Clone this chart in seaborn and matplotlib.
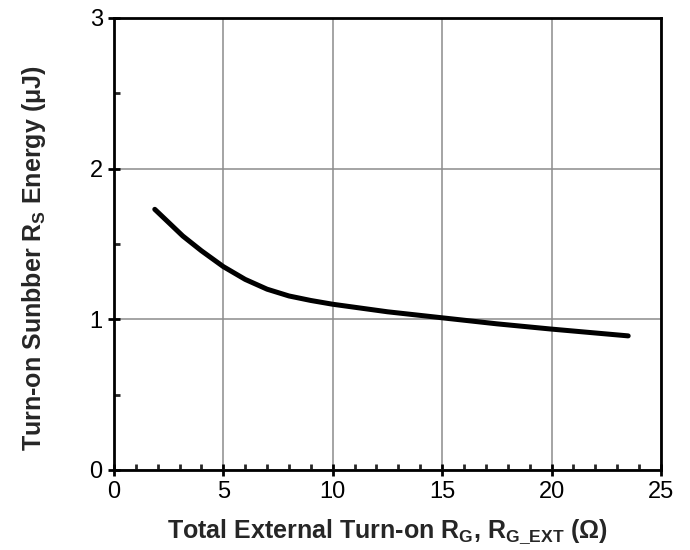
# Turn-on snubber energy vs external gate resistance
# ==============================================================================

import numpy as np
import pandas as pd
import matplotlib
matplotlib.use("Agg")
import matplotlib.pyplot as plt
import matplotlib.ticker as ticker
import seaborn as sns

# Data
# ==============================================================================
rg_ext = [1.87, 2.5, 3.15, 4.0, 5.0, 6.0, 7.0, 8.0, 9.0, 10.0, 12.5, 15.0, 17.5, 20.0, 23.5]
energy = [1.73, 1.643, 1.553, 1.455, 1.35, 1.265, 1.20, 1.155, 1.125, 1.10, 1.05, 1.01, 0.97, 0.935, 0.89]

x_ticks = [0, 5, 10, 15, 20, 25]
y_ticks = [0, 1, 2, 3]

df = pd.DataFrame({"rg": rg_ext, "e": energy})

sns.set_style("white")
plt.rcParams["font.family"] = ["Liberation Sans", "DejaVu Sans"]
plt.rcParams["mathtext.fontset"] = "custom"
plt.rcParams["mathtext.rm"] = "Liberation Sans"
plt.rcParams["mathtext.bf"] = "Liberation Sans:bold"

fig = plt.figure(figsize=(6.9, 5.5), dpi=100)
ax = fig.add_axes([0.165, 0.1455, 0.793, 0.8218])

sns.lineplot(data=df, x="rg", y="e", color="black", linewidth=3.6,
             solid_capstyle="round", solid_joinstyle="round", ax=ax)

ax.set_xlim(0, 25)
ax.set_ylim(0, 3)
ax.set_xticks(x_ticks)
ax.set_yticks(y_ticks)
ax.xaxis.set_minor_locator(ticker.MultipleLocator(1))
ax.yaxis.set_minor_locator(ticker.MultipleLocator(0.5))

ax.grid(True, which="major", color="#8c8c8c", linewidth=1.1)
ax.set_axisbelow(True)

for s in ax.spines.values():
    s.set_color("black")
    s.set_linewidth(2.0)
    s.set_visible(True)

ax.tick_params(which="major", direction="inout", length=8, width=2.0,
               labelsize=17, colors="black", bottom=True, left=True, pad=4)
ax.tick_params(which="minor", direction="in", length=4, width=2.0,
               bottom=True, left=True)

ax.set_xlabel(r"Total External Turn-on R$_\mathbf{G}$, R$_\mathbf{G\_EXT}$ (Ω)",
              fontsize=18, fontweight="bold", labelpad=10)
ax.set_ylabel(r"Turn-on Sunbber R$_\mathbf{S}$ Energy (μJ)",
              fontsize=18, fontweight="bold")
ax.yaxis.set_label_coords(-0.12, 0.468)

plt.savefig("out.png", dpi=100)
